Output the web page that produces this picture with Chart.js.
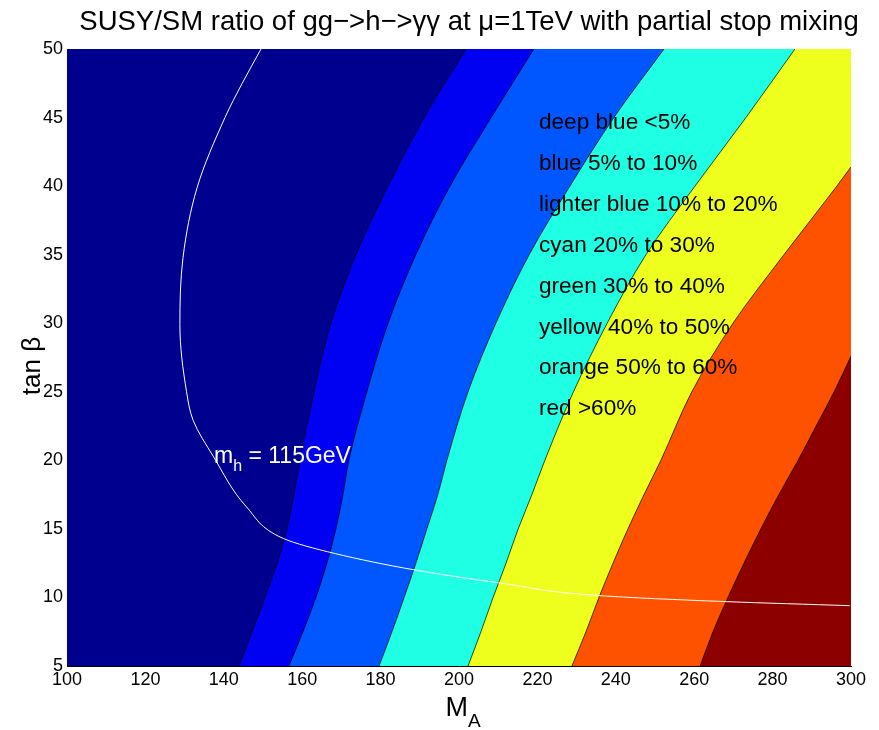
<!DOCTYPE html>
<html>
<head>
<meta charset="utf-8">
<script src="https://cdn.jsdelivr.net/npm/chart.js@4.4.1/dist/chart.umd.min.js"></script>
<style>
html, body { margin: 0; padding: 0; background: #fff; }
canvas { display: block; }
</style>
</head>
<body>
<canvas id="c" width="879" height="730"></canvas>
<script>
// Contour lines of the SUSY/SM ratio, as [M_A, tan beta] pairs ordered by tan beta
const leftEdge  = [[100, 5], [100, 50]];
const contour5  = [[143.9, 5], [147.2, 7.5], [150.5, 10], [153.6, 12.5], [156.1, 15], [157.9, 17.5], [159.4, 20], [163.0, 25], [167.3, 30], [173.7, 35], [181.9, 40], [191.1, 45], [201.8, 50]];
const contour10 = [[156.6, 5], [160.2, 7.5], [163.5, 10], [166.3, 12.5], [168.6, 15], [170.4, 17.5], [171.9, 20], [176.5, 25], [181.9, 30], [189.0, 35], [197.7, 40], [208.2, 45], [219.1, 50]];
const contour20 = [[179.6, 5], [182.9, 7.5], [186.0, 10], [189.0, 12.5], [191.8, 15], [194.6, 17.5], [196.9, 20], [202.3, 25], [209.4, 30], [217.9, 35], [228.3, 40], [239.5, 45], [252.3, 50]];
const contour40 = [[202.3, 5], [205.6, 7.5], [208.7, 10], [212.0, 12.5], [215.1, 15], [218.6, 17.5], [221.9, 20], [229.2, 25], [237.8, 30], [247.7, 35], [260.2, 40], [273.2, 45], [285.7, 50]];
const contour50 = [[228.8, 5], [232.4, 7.5], [235.7, 10], [239.3, 12.5], [243.1, 15], [247.2, 17.5], [251.5, 20], [259.4, 25], [269.9, 30], [282.9, 35], [296.4, 40], [300.0, 41.4]];
const contour60 = [[261.5, 5], [264.8, 7.5], [268.6, 10], [272.7, 12.5], [277.0, 15], [281.6, 17.5], [286.5, 20], [291.1, 22.5], [295.7, 25], [300.0, 27.6]];
// m_h = 115 GeV line, ordered by tan beta
const higgs115 = [[299.7, 9.40], [268.6, 9.69], [236.0, 10.13], [210.5, 11.05], [188.8, 12.0], [168.4, 13.2], [155.2, 14.3], [145.8, 16.6], [137.3, 20.3], [132.2, 22.9], [130.5, 25.0], [128.8, 29.9], [129.6, 34.8], [133.2, 39.9], [140.3, 45.0], [144.7, 47.5], [149.5, 50.0]];

const legendLines = ['deep blue <5%', 'blue 5% to 10%', 'lighter blue 10% to 20%', 'cyan 20% to 30%',
                     'green 30% to 40%', 'yellow 40% to 50%', 'orange 50% to 60%', 'red >60%'];

const titleText = 'SUSY/SM ratio of gg\u2212>h\u2212>\u03b3\u03b3 at \u03bc=1TeV with partial stop mixing';

const xMin = 100, xMax = 300, xStep = 20;
const yMin = 5, yMax = 50, yStep = 5;

const FONT = '"Liberation Sans", Arial, Helvetica, sans-serif';
Chart.defaults.font.family = FONT;
Chart.defaults.color = '#000';

const bands = [
  { pts: leftEdge,  color: '#00008f', line: 0 },
  { pts: contour5,  color: '#0000f2', line: 0.7 },
  { pts: contour10, color: '#0056ff', line: 0.7 },
  { pts: contour20, color: '#1effe4', line: 0.7 },
  { pts: contour40, color: '#eeff1e', line: 0.7 },
  { pts: contour50, color: '#ff5200', line: 0.7 },
  { pts: contour60, color: '#8c0000', line: 0.7 }
];

const toXY = pts => pts.map(([m, t]) => ({ x: m, y: t }));

// each band is filled from its contour to the right edge; later bands paint over earlier ones
const datasets = bands.map((b, i) => ({
  data: toXY(b.pts),
  backgroundColor: b.color,
  borderColor: '#000',
  borderWidth: b.line,
  fill: { value: xMax },
  cubicInterpolationMode: 'monotone',
  pointRadius: 0,
  order: 20 - i
}));
datasets.push({
  data: toXY(higgs115),
  borderColor: '#ffffff',
  borderWidth: 1,
  fill: false,
  cubicInterpolationMode: 'monotone',
  pointRadius: 0,
  order: 0
});

// Title, text inside the plot and the axis titles
const textLayer = {
  id: 'textLayer',
  afterDraw(chart) {
    const { ctx, chartArea, scales: { x, y } } = chart;
    ctx.save();
    ctx.fillStyle = '#000';
    ctx.textBaseline = 'middle';

    ctx.textAlign = 'center';
    ctx.font = '27.5px ' + FONT;
    ctx.fillText(titleText, (chartArea.left + chartArea.right) / 2 + 10, 22);

    ctx.textAlign = 'left';
    ctx.font = '22.6px ' + FONT;
    const lx = x.getPixelForValue(220.4);
    legendLines.forEach((t, i) => {
      ctx.fillText(t, lx, y.getPixelForValue(44.6 - 2.98 * i));
    });

    // m_h = 115GeV label
    ctx.fillStyle = '#fff';
    ctx.textBaseline = 'alphabetic';
    let px = x.getPixelForValue(137.5);
    const base = y.getPixelForValue(19.8);
    ctx.font = '23px ' + FONT;
    ctx.fillText('m', px, base);
    px += ctx.measureText('m').width;
    ctx.font = '16px ' + FONT;
    ctx.fillText('h', px, base + 8);
    px += ctx.measureText('h').width;
    ctx.font = '23px ' + FONT;
    ctx.fillText(' = 115GeV', px, base);

    // y-axis title
    ctx.fillStyle = '#000';
    ctx.save();
    ctx.translate(33, 366);
    ctx.rotate(-Math.PI / 2);
    ctx.textAlign = 'center';
    ctx.textBaseline = 'middle';
    ctx.font = '26px ' + FONT;
    ctx.fillText('tan \u03b2', 0, 0);
    ctx.restore();

    // x-axis title M_A
    ctx.textAlign = 'left';
    const cx = (chartArea.left + chartArea.right) / 2;
    ctx.font = '27px ' + FONT;
    const mw = ctx.measureText('M').width;
    ctx.font = '19px ' + FONT;
    const aw = ctx.measureText('A').width;
    const tx = cx - (mw + aw) / 2 + 4;
    ctx.font = '27px ' + FONT;
    ctx.fillText('M', tx, chartArea.bottom + 50);
    ctx.font = '19px ' + FONT;
    ctx.fillText('A', tx + mw, chartArea.bottom + 61);
    ctx.restore();
  }
};

new Chart(document.getElementById('c'), {
  type: 'line',
  data: { datasets },
  options: {
    indexAxis: 'y',
    responsive: false,
    animation: false,
    events: [],
    layout: { padding: { top: 49, right: 28, bottom: 0, left: 0 } },
    plugins: {
      legend: { display: false },
      tooltip: { enabled: false },
      title: { display: false }
    },
    scales: {
      x: {
        type: 'linear',
        min: xMin, max: xMax,
        z: 1,
        grid: { display: false, drawTicks: false },
        border: { display: true, color: '#000', width: 1 },
        ticks: { stepSize: xStep, autoSkip: false, maxRotation: 0, padding: 3, color: '#000', font: { size: 18 } },
        afterFit(s) { s.height = 64; }
      },
      y: {
        type: 'linear',
        position: 'left',
        min: yMin, max: yMax,
        z: 1,
        grid: { display: false, drawTicks: false },
        border: { display: true, color: '#000', width: 1 },
        ticks: { stepSize: yStep, autoSkip: false, padding: 4, color: '#000', font: { size: 18 } },
        afterFit(s) { s.width = 67; }
      }
    }
  },
  plugins: [textLayer]
});
</script>
</body>
</html>
